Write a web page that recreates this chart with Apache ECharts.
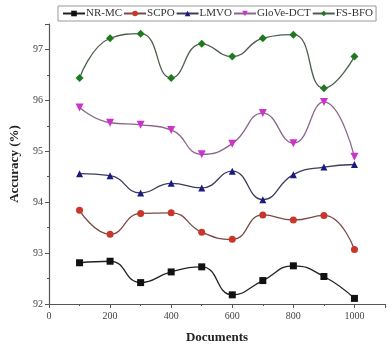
<!DOCTYPE html>
<html>
<head>
<meta charset="utf-8">
<script src="https://cdn.jsdelivr.net/npm/echarts@6/dist/echarts.min.js"></script>
<style>
  html, body { margin: 0; padding: 0; background: #fff; }
  #chart { width: 388px; height: 349px; }
</style>
</head>
<body>
<div id="chart"></div>
<script>
// documents on the x axis
var documents = [100, 200, 300, 400, 500, 600, 700, 800, 900, 1000]

// accuracy (%) per method
var nrmc = [92.81, 92.84, 92.42, 92.63, 92.73, 92.18, 92.46, 92.75, 92.54, 92.11]
var scpo = [93.84, 93.37, 93.78, 93.79, 93.41, 93.27, 93.75, 93.65, 93.74, 93.07]
var lmvo = [94.56, 94.52, 94.18, 94.37, 94.28, 94.61, 94.05, 94.54, 94.69, 94.74]
var glove = [95.86, 95.56, 95.52, 95.42, 94.94, 95.15, 95.75, 95.16, 95.97, 94.89]
var fsbfo = [96.44, 97.22, 97.31, 96.44, 97.11, 96.86, 97.22, 97.29, 96.24, 96.86]

var names = ['NR-MC', 'SCPO', 'LMVO', 'GloVe-DCT', 'FS-BFO']

function pairs (ys) {
    return documents.map(function (x, i) { return [x, ys[i]] })
}

function makeSeries (name, ys, symbol, markerColor, lineColor, size) {
    return {
        name: name,
        type: 'line',
        smooth: 0.5,
        symbol: symbol,
        symbolSize: size,
        data: pairs(ys),
        itemStyle: { color: markerColor },
        lineStyle: { color: lineColor, width: 1.3 }
    }
}

var chart = echarts.init(document.getElementById('chart'))
var font = 'Liberation Serif, Times New Roman, serif'

chart.setOption({
    animation: false,
    textStyle: { fontFamily: font },
    grid: { left: 48, right: 0, top: 24, bottom: 45 },
    legend: {
        data: names,
        left: 58,
        top: 6,
        width: 340,
        borderColor: '#999',
        borderWidth: 1,
        padding: [2, 3, 2, 4],
        itemGap: 1,
        itemWidth: 22,
        itemHeight: 7,
        textStyle: { fontFamily: font, fontSize: 11, color: '#333', padding: [0, 0, 0, -4] }
    },
    xAxis: {
        type: 'value',
        min: 0,
        max: 1100,
        interval: 200,
        name: 'Documents',
        nameLocation: 'middle',
        nameGap: 27,
        nameTextStyle: { fontFamily: font, fontWeight: 'bold', fontSize: 13, color: '#222' },
        splitLine: { show: false },
        axisLine: { lineStyle: { color: '#555', width: 1.2 } },
        axisTick: { inside: false, length: 4, lineStyle: { color: '#555' } },
        minorTick: { show: true, splitNumber: 2, length: 2, lineStyle: { color: '#555' } },
        axisLabel: {
            color: '#444',
            fontSize: 10,
            margin: 7,
            formatter: function (v) { return v % 200 === 0 ? v : '' }
        }
    },
    yAxis: {
        type: 'value',
        min: 92,
        max: 97.5,
        interval: 1,
        name: 'Accuracy (%)',
        nameLocation: 'middle',
        nameGap: 28,
        nameTextStyle: { fontFamily: font, fontWeight: 'bold', fontSize: 13, color: '#222' },
        splitLine: { show: false },
        axisLine: { show: true, lineStyle: { color: '#555', width: 1.2 } },
        axisTick: { show: true, inside: false, length: 4, lineStyle: { color: '#555' } },
        minorTick: { show: true, splitNumber: 2, length: 2, lineStyle: { color: '#555' } },
        axisLabel: {
            color: '#444',
            fontSize: 10,
            margin: 6,
            formatter: function (v) { return v % 1 === 0 ? v : '' }
        }
    },
    series: [
        makeSeries('NR-MC', nrmc, 'rect', '#111', '#222', 7),
        makeSeries('SCPO', scpo, 'circle', '#c8372a', '#7a4a44', 7),
        makeSeries('LMVO', lmvo, 'triangle', '#1a1a80', '#3c3c5c', 7),
        makeSeries('GloVe-DCT', glove, 'path://M0,0 L10,0 L5,9 Z', '#cc33cc', '#8a668a', 8),
        makeSeries('FS-BFO', fsbfo, 'diamond', '#1e7a1e', '#4e5e4e', 8)
    ]
}, true)
</script>
</body>
</html>
